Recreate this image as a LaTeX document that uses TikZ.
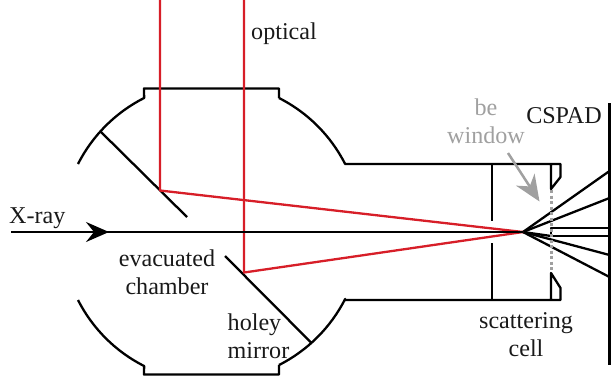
\documentclass[tikz,border=0pt]{standalone}
\usepackage{fontspec}
\setmainfont{Liberation Serif}
\usetikzlibrary{arrows.meta}
\definecolor{beamred}{RGB}{215,30,40}
\definecolor{wingray}{RGB}{160,160,160}
\tikzset{
  wall/.style={black,line width=2.3bp,line join=round},
  ray/.style={beamred,line width=2.3bp,line join=round},
  lbl/.style={inner sep=0pt,font=\fontsize{24.2}{28.6}\selectfont,align=center,text=black!90},
  greylbl/.style={lbl,text=wingray},
}
\begin{document}
\begin{tikzpicture}[x=1bp,y=-1bp]
\useasboundingbox (0,0) rectangle (612,384);
% chamber
\draw[wall] (78,164) arc[start angle=206.9,end angle=243.2,radius=150]
  -- (144,88.5) -- (279,88.5) -- (279,98);
\draw[wall] (279,98) arc[start angle=296.8,end angle=333.1,radius=150]
  -- (345,164) -- (560.5,164) -- (560.5,177) -- (551,189) -- (551,164);
\draw[wall] (78,300) arc[start angle=153.1,end angle=116.8,radius=150]
  -- (144,374.5) -- (279,374.5) -- (279,365);
\draw[wall] (279,365) arc[start angle=63.2,end angle=26.9,radius=150]
  -- (345,300) -- (560.5,300) -- (560.5,288) -- (551,273) -- (551,300);
% inner wall
\draw[wall] (492,164) -- (492,221);
\draw[wall] (492,243) -- (492,300);
% mirrors
\coordinate (m1a) at (100,131); \coordinate (m1b) at (187,217);
\coordinate (m2a) at (225,256); \coordinate (m2b) at (311.5,343);
\draw[wall] (m1a) -- (m1b);
\draw[wall] (m2a) -- (m2b);
% focus and detector
\coordinate (f) at (523,232);
\draw[wall] (609.5,103) -- (609.5,365);
\draw[wall] (f) -- (609.5,171);
\draw[wall] (f) -- (609.5,198);
\draw[wall] (f) -- (609.5,255);
\draw[wall] (f) -- (609.5,277);
\draw[wall] (609.5,228) -- (551,228) -- (551,236) -- (609.5,236);
\draw[wall] (f) -- (551,236);
% gray dotted window
\draw[wingray,line width=3bp,dash pattern=on 3bp off 2.5bp] (551,190) -- (551,272);
% rays
\coordinate (r1t) at (160,0); \coordinate (r1m) at (160,190.5);
\coordinate (r2t) at (244,0); \coordinate (r2m) at (244,272.5);
\draw[ray] (r1t) -- (r1m) -- (f);
\draw[ray] (r2t) -- (r2m) -- (f);
% axis
\coordinate (xs) at (11,232);
\draw[black,line width=2.5bp] (xs) -- (f);
\draw[black,line width=2.5bp,-{Stealth[length=23bp,width=20bp,inset=8bp]}] (xs) -- (109,232);
% arrow to window
\coordinate (wa) at (508,153); \coordinate (wb) at (539.5,201.5);
\draw[wingray,line width=2.5bp,-{Stealth[length=26bp,width=22bp,inset=8bp]}] (wa) -- (wb);
% labels
\node[lbl,anchor=west] (optical) at (251,33.5) {optical};
\node[lbl,anchor=west] (xray) at (9,218) {X-ray};
\node[lbl] (evac) at (167,272) {evacuated\\chamber};
\node[lbl,align=left] (holey) at (258.5,336) {holey\\mirror};
\node[lbl] (scat) at (526,334.5) {scattering\\cell};
\node[lbl] (cspad) at (564,115.5) {CSPAD};
\node[greylbl] (be) at (486,121) {be\\window};
\end{tikzpicture}
\end{document}
